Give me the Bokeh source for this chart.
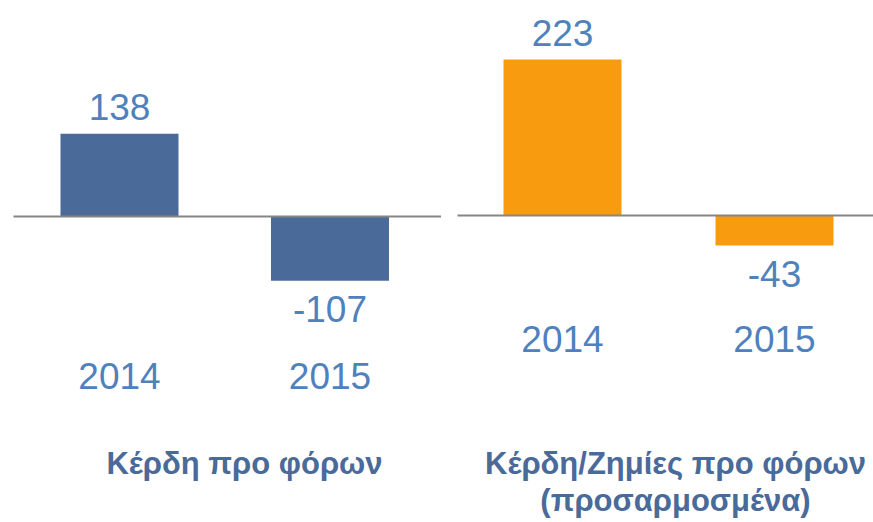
from bokeh.plotting import figure
from bokeh.models import Range1d, ColumnDataSource
from bokeh.layouts import row
from bokeh.embed import file_html
from bokeh.resources import INLINE
from bokeh.core.properties import value

years = ["2014", "2015"]
profit_before_tax = [138, -107]
adjusted_profit_before_tax = [223, -43]
title_left = ["Κέρδη προ φόρων"]
title_right = ["Κέρδη/Ζημίες προ φόρων", "(προσαρμοσμένα)"]

BAR_BLUE = "#4a6b9a"
ORANGE = "#f99b0f"
LABEL_BLUE = "#4f81bd"
TITLE_BLUE = "#4a6a9a"
AXIS_GREY = "#868686"
FONT = "Liberation Sans"
H = 522
NUM_SIZE = 37
TITLE_SIZE = 31


def panel(width, center0, spacing, bar_px, zero_px, scale, line_from, vals, color,
          year_off, titles, title_x, title_base):
    xs = list(range(len(years)))
    x0 = -center0 / spacing
    x1 = x0 + width / spacing
    top = zero_px / scale
    bottom = (H - zero_px) / scale
    p = figure(width=width, height=H, output_backend="svg", toolbar_location=None,
               x_range=Range1d(x0, x1), y_range=Range1d(-bottom, top),
               min_border=0, min_border_left=0, min_border_right=0,
               min_border_top=0, min_border_bottom=0)
    p.axis.visible = False
    p.grid.visible = False
    p.outline_line_color = None
    p.background_fill_color = "white"
    p.border_fill_color = "white"

    src = ColumnDataSource(dict(x=xs, v=vals, lbl=[str(v) for v in vals], yr=years,
                                off=[-26.5 if v >= 0 else 28.5 for v in vals]))
    p.vbar(x="x", top="v", bottom=0, width=bar_px / spacing, source=src,
           fill_color=color, line_color=None)
    p.segment(x0=x0 + line_from / spacing, x1=x1, y0=0, y1=0,
              line_color=AXIS_GREY, line_width=2)
    p.text(x="x", y="v", text="lbl", y_offset="off", source=src,
           text_font=value(FONT), text_font_size=f"{NUM_SIZE}px", text_color=LABEL_BLUE,
           text_align="center", text_baseline="alphabetic")
    p.text(x="x", y=0, text="yr", y_offset=year_off, source=src,
           text_font=value(FONT), text_font_size=f"{NUM_SIZE}px", text_color=LABEL_BLUE,
           text_align="center", text_baseline="alphabetic")
    tx = x0 + title_x / spacing
    for i, t in enumerate(titles):
        p.text(x=[tx], y=[0], text=[t], y_offset=title_base + 37 * i - zero_px,
               text_font=value(FONT), text_font_size=f"{TITLE_SIZE}px",
               text_font_style="bold", text_color=TITLE_BLUE,
               text_align="center", text_baseline="alphabetic")
    return p


p1 = panel(441, 119, 210.5, 118, 216, 0.6, 13, profit_before_tax, BAR_BLUE,
           159, title_left, 244, 463)
p2 = panel(432, 121, 212, 118, 215, 0.7, 16, adjusted_profit_before_tax, ORANGE,
           123, title_right, 234, 463)

layout = row(p1, p2, spacing=0)
open("out.html", "w").write(file_html(layout, INLINE))
